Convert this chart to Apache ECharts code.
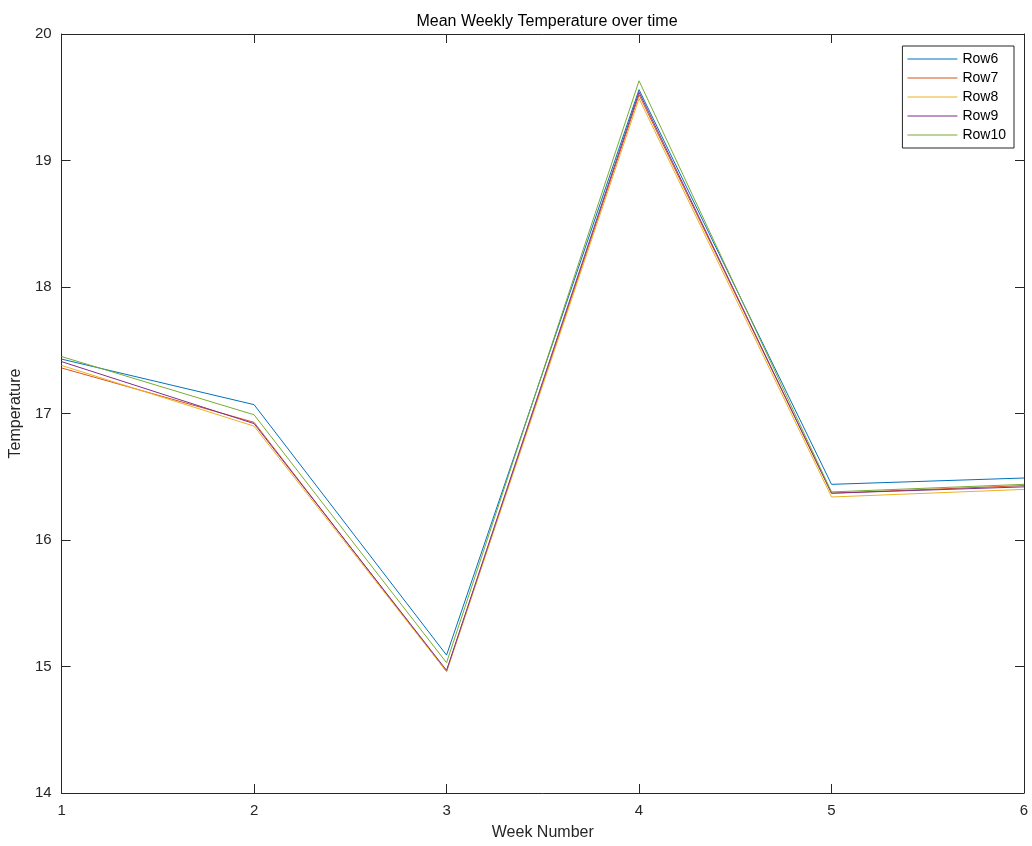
<!DOCTYPE html>
<html>
<head>
<meta charset="utf-8">
<script src="https://cdn.jsdelivr.net/npm/echarts@6/dist/echarts.min.js"></script>
<style>html,body{margin:0;padding:0;background:#fff;}#c{width:1032px;height:846px;}</style>
</head>
<body>
<div id="c"></div>
<script>
const weeks = [1, 2, 3, 4, 5, 6];
const seriesNames = ['Row6', 'Row7', 'Row8', 'Row9', 'Row10'];
const row6 = [17.43, 17.07, 15.09, 19.56, 16.44, 16.49];
const row7 = [17.36, 16.93, 14.96, 19.52, 16.37, 16.43];
const row8 = [17.38, 16.90, 14.96, 19.49, 16.34, 16.40];
const row9 = [17.41, 16.92, 14.97, 19.54, 16.37, 16.42];
const row10 = [17.45, 16.99, 15.03, 19.63, 16.38, 16.44];
const yTicks = [14, 15, 16, 17, 18, 19, 20];
const colors = ['#0072BD', '#D95319', '#EDB120', '#7E2F8E', '#77AC30'];

const allRows = [row6, row7, row8, row9, row10];
const font = 'Liberation Sans, Arial, sans-serif';
const axisColor = '#262626';

const chart = echarts.init(document.getElementById('c'));
const baseAxis = {
  axisLine: { show: true, onZero: false, lineStyle: { color: axisColor, width: 1 } },
  axisTick: { show: true, inside: true, length: 9, lineStyle: { color: axisColor } },
  splitLine: { show: false },
  axisLabel: { color: axisColor, fontSize: 15, fontFamily: font }
};
chart.setOption({
  animation: false,
  backgroundColor: '#fff',
  color: colors,
  title: {
    text: 'Mean Weekly Temperature over time',
    left: 542, top: 9, textAlign: 'center',
    textStyle: { fontSize: 16, fontWeight: 'normal', color: '#000', fontFamily: font }
  },
  grid: { left: 61, right: 8, top: 34, bottom: 49, containLabel: false },
  legend: {
    orient: 'vertical', right: 18, top: 46,
    backgroundColor: '#fff', borderColor: axisColor, borderWidth: 1,
    padding: [6, 8, 6, 5],
    icon: 'rect',
    itemWidth: 50, itemHeight: 1.2, itemGap: 5,
    textStyle: { fontSize: 14, lineHeight: 14, color: '#000', fontFamily: font },
    data: seriesNames
  },
  xAxis: [
    Object.assign({}, baseAxis, {
      type: 'value', min: 1, max: 6, interval: 1, position: 'bottom',
      name: 'Week Number', nameLocation: 'middle', nameGap: 32,
      nameTextStyle: { fontSize: 16, color: axisColor, fontFamily: font },
      axisLabel: Object.assign({}, baseAxis.axisLabel, { margin: 10 })
    }),
    Object.assign({}, baseAxis, {
      type: 'value', min: 1, max: 6, interval: 1, position: 'top',
      axisLabel: { show: false }
    })
  ],
  yAxis: [
    Object.assign({}, baseAxis, {
      type: 'value', min: yTicks[0], max: yTicks[yTicks.length - 1], interval: 1, position: 'left',
      name: 'Temperature', nameLocation: 'middle', nameGap: 29, nameRotate: 90,
      nameTextStyle: { fontSize: 16, color: axisColor, fontFamily: font },
      axisLabel: Object.assign({}, baseAxis.axisLabel, { margin: 10 })
    }),
    Object.assign({}, baseAxis, {
      type: 'value', min: yTicks[0], max: yTicks[yTicks.length - 1], interval: 1, position: 'right',
      axisLabel: { show: false }
    })
  ],
  series: allRows.map((row, i) => ({
    name: seriesNames[i],
    type: 'line',
    xAxisIndex: 0, yAxisIndex: 0,
    symbol: 'none',
    lineStyle: { width: 1, color: colors[i] },
    itemStyle: { color: colors[i] },
    data: weeks.map((w, j) => [w, row[j]])
  }))
});
</script>
</body>
</html>
